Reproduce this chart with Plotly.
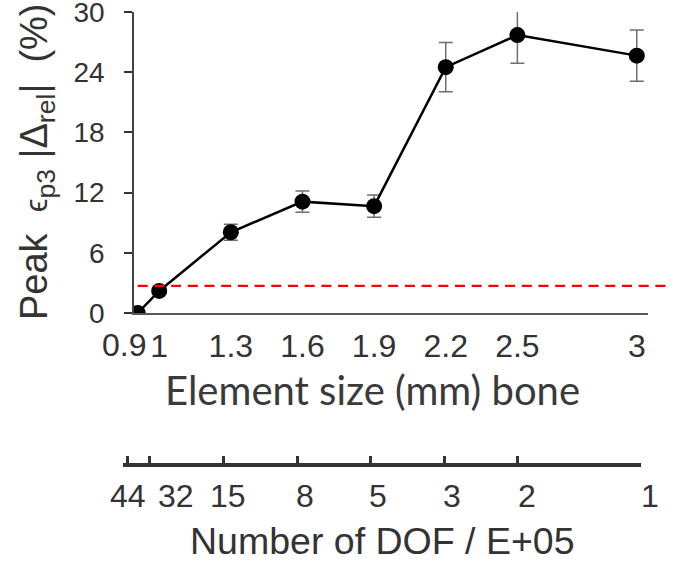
import plotly.graph_objects as go

# ---- data ----
element_size = [0.91, 1.0, 1.3, 1.6, 1.9, 2.2, 2.5, 3.0]
size_labels = ["0.9", "1", "1.3", "1.6", "1.9", "2.2", "2.5", "3"]
peak_error = [0.0, 2.2, 8.05, 11.1, 10.65, 24.5, 27.7, 25.65]
error_sd = [0.0, 0.3, 0.8, 1.05, 1.1, 2.45, 2.8, 2.55]
dof_labels = ["44", "32", "15", "8", "5", "3", "2", "1"]
threshold = 2.7
y_ticks = [0, 6, 12, 18, 24, 30]

# ---- layout constants (styling) ----
W, H = 679, 563
ML, MR, MT, MB = 100, 31, 12, 100
PW, PH = W - ML - MR, H - MT - MB
X_RANGE = [0.8945, 3.047]
X_DOMAIN = [0.06204, 1.0]
X2_RANGE = [0.8887, 3.0005]
X2_DOMAIN = [0.04142, 0.98668]
Y_DOMAIN = [0.3326, 1.0]
dof_shift = [0, 26, 4, 8, 7, 8, 9, 9]

SANS = "Liberation Sans, Arial, sans-serif"
TXT = "#333333"

fig = go.Figure()
fig.add_trace(go.Scatter(
    x=element_size, y=peak_error, mode="lines+markers",
    line=dict(color="black", width=2.5),
    marker=dict(size=16, color="black"),
    error_y=dict(type="data", array=error_sd, color="#6e6e6e", thickness=1.5, width=7),
    cliponaxis=True, showlegend=False,
))
# invisible trace to realise the secondary (DOF) axis
fig.add_trace(go.Scatter(
    x=element_size, y=[None] * len(element_size), xaxis="x2", yaxis="y2",
    mode="markers", showlegend=False, hoverinfo="skip",
))

def x_to_paper(v):
    frac = (v - X_RANGE[0]) / (X_RANGE[1] - X_RANGE[0])
    return X_DOMAIN[0] + frac * (X_DOMAIN[1] - X_DOMAIN[0])

# threshold line (extends beyond the plot area, as in the reference)
fig.add_shape(type="line", xref="paper", yref="y",
              x0=x_to_paper(element_size[0]), x1=(672 - ML) / PW, y0=threshold, y1=threshold,
              line=dict(color="#ff0000", width=2.2, dash="10px,6.7px"), layer="above")

annotations = []
annotations.append(dict(xref="x", yref="y", x=element_size[0], y=0, text=size_labels[0],
                        showarrow=False, yanchor="top", xshift=-14, yshift=-12,
                        font=dict(family=SANS, size=32, color=TXT)))
for v, lab, sh in zip(element_size, dof_labels, dof_shift):
    annotations.append(dict(xref="x2", yref="paper", x=v, y=0, text=lab, showarrow=False,
                            yanchor="middle", xshift=sh, yshift=-33,
                            font=dict(family=SANS, size=32, color=TXT)))
annotations.append(dict(xref="paper", yref="paper", x=(372 - ML) / PW, y=(463 - 390) / PH,
                        text="Element size (mm) bone", showarrow=False,
                        xanchor="center", yanchor="middle",
                        font=dict(family="Lato, sans-serif", size=40, color="#3a3a3a")))
annotations.append(dict(xref="paper", yref="paper", x=(382 - ML) / PW, y=(463 - 540.5) / PH,
                        text="Number of DOF / E+05", showarrow=False,
                        xanchor="center", yanchor="middle",
                        font=dict(family=SANS, size=37.5, color=TXT)))
annotations.append(dict(xref="paper", yref="paper", x=(37 - ML) / PW, y=(463 - 162) / PH,
                        text="Peak  <span style='font-size:31px'>ϵ</span><sub>p3</sub> |Δ<sub>rel</sub>|  (%)",
                        showarrow=False, textangle=-90, xanchor="center", yanchor="middle",
                        font=dict(family=SANS, size=38, color=TXT)))

fig.update_layout(
    width=W, height=H, margin=dict(l=ML, r=MR, t=MT, b=MB, pad=0, autoexpand=False),
    paper_bgcolor="white", plot_bgcolor="rgba(0,0,0,0)",
    showlegend=False,
    xaxis=dict(domain=X_DOMAIN, range=X_RANGE, showline=True, linecolor="#595959", linewidth=2,
               ticks="", tickvals=element_size[1:], ticktext=size_labels[1:], tickangle=0,
               tickfont=dict(family=SANS, size=32, color=TXT), showgrid=False, zeroline=False,
               ticklabelstandoff=4, anchor="y", automargin=False),
    yaxis=dict(domain=Y_DOMAIN, range=[0, 30], tickvals=y_ticks, ticks="outside", ticklen=8,
               tickwidth=1.5, tickcolor="#333333", showline=True, linecolor="#444444", linewidth=1.5,
               tickfont=dict(family=SANS, size=28, color=TXT), showgrid=False, zeroline=False,
               ticklabelstandoff=14, ticklabeloverflow="allow", anchor="x", automargin=False),
    xaxis2=dict(domain=X2_DOMAIN, range=X2_RANGE, anchor="y2", side="bottom",
                showline=True, linewidth=4, linecolor="#333333", ticks="inside", ticklen=7,
                tickwidth=2.5, tickcolor="#333333", tickvals=element_size, showticklabels=False,
                showgrid=False, zeroline=False, automargin=False),
    yaxis2=dict(domain=[0, 0.002], anchor="x2", visible=False, range=[0, 1], automargin=False),
    annotations=annotations,
)

fig.write_html("out.html")
